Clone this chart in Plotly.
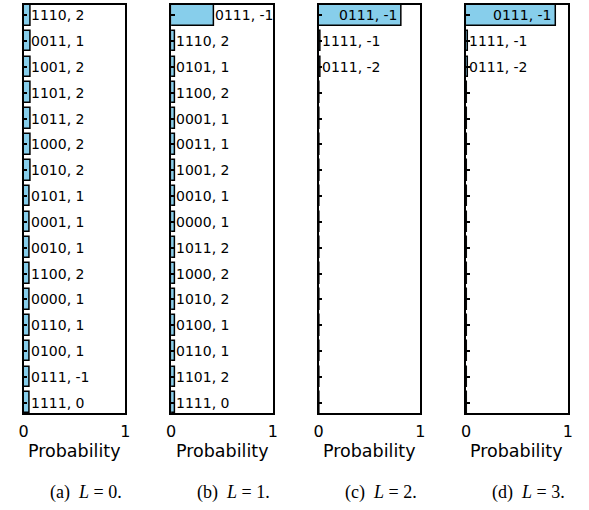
import plotly.graph_objects as go

# ---- data: measured state distributions after L layers ----
states_L0 = ["1110, 2", "0011, 1", "1001, 2", "1101, 2", "1011, 2", "1000, 2", "1010, 2", "0101, 1",
             "0001, 1", "0010, 1", "1100, 2", "0000, 1", "0110, 1", "0100, 1", "0111, -1", "1111, 0"]
probs_L0 = [0.067, 0.066, 0.066, 0.065, 0.065, 0.064, 0.064, 0.063,
            0.062, 0.062, 0.061, 0.060, 0.060, 0.059, 0.058, 0.058]

states_L1 = ["0111, -1", "1110, 2", "0101, 1", "1100, 2", "0001, 1", "0011, 1", "1001, 2", "0010, 1",
             "0000, 1", "1011, 2", "1000, 2", "1010, 2", "0100, 1", "0110, 1", "1101, 2", "1111, 0"]
probs_L1 = [0.420, 0.042, 0.041, 0.040, 0.040, 0.039, 0.039, 0.039,
            0.038, 0.038, 0.038, 0.038, 0.037, 0.037, 0.036, 0.036]

states_L2 = ["0111, -1", "1111, -1", "0111, -2", "1111, 0", "1110, 2", "0011, 1", "0101, 1", "1101, 2",
             "1011, 2", "0001, 1", "0010, 1", "1001, 2", "0100, 1", "0110, 1", "1000, 2", "0000, 1"]
probs_L2 = [0.816, 0.024, 0.020, 0.012, 0.012, 0.011, 0.011, 0.011,
            0.011, 0.011, 0.010, 0.010, 0.010, 0.010, 0.010, 0.009]

states_L3 = ["0111, -1", "1111, -1", "0111, -2", "1111, 0", "1110, 2", "0011, 1", "0101, 1", "1101, 2",
             "1011, 2", "0001, 1", "0010, 1", "1001, 2", "0100, 1", "0110, 1", "1000, 2", "0000, 1"]
probs_L3 = [0.889, 0.020, 0.018, 0.006, 0.006, 0.006, 0.006, 0.006,
            0.006, 0.005, 0.005, 0.005, 0.005, 0.005, 0.006, 0.006]

captions = ["(a)  <i>L</i> = 0.", "(b)  <i>L</i> = 1.", "(c)  <i>L</i> = 2.", "(d)  <i>L</i> = 3."]
x_ticks = [0, 1]
label_threshold = 0.015

panels = [(states_L0, probs_L0), (states_L1, probs_L1), (states_L2, probs_L2), (states_L3, probs_L3)]

# ---- layout geometry (pixels) ----
W, H = 589, 510
ax_left0, ax_w, ax_gap = 19, 103.5, 150
ax_top, ax_bottom = 5, 413
bar_width = 0.8

SANS = "DejaVu Sans"
SERIF = "Liberation Serif"

fig = go.Figure()
annotations = []

for k, (states, probs) in enumerate(panels):
    xa = "x" if k == 0 else f"x{k + 1}"
    ya = "y" if k == 0 else f"y{k + 1}"
    rows = list(range(len(states)))
    fig.add_trace(go.Bar(
        x=probs, y=rows, orientation="h", width=bar_width,
        marker=dict(color="#87CEEB", line=dict(color="black", width=1.5)),
        xaxis=xa, yaxis=ya, showlegend=False, hoverinfo="skip",
    ))

    left = ax_left0 + k * ax_gap
    dom_x = [left / W, (left + ax_w) / W]
    dom_y = [1 - ax_bottom / H, 1 - ax_top / H]
    xkey = "xaxis" if k == 0 else f"xaxis{k + 1}"
    ykey = "yaxis" if k == 0 else f"yaxis{k + 1}"
    fig.update_layout(**{
        xkey: dict(domain=dom_x, anchor=ya, range=[0, 1], tickvals=x_ticks,
                   ticktext=[str(t) for t in x_ticks], ticks="", showgrid=False, zeroline=False,
                   showline=True, mirror=True, linecolor="black", linewidth=1.5,
                   ticklabelstandoff=3,
                   tickfont=dict(family=SANS, size=16, color="black")),
        ykey: dict(domain=dom_y, anchor=xa, range=[len(states) - 1 + bar_width / 2, -bar_width / 2],
                   tickvals=rows, showticklabels=False, ticks="inside", ticklen=4, tickwidth=1.5,
                   tickcolor="black", showgrid=False, zeroline=False,
                   showline=True, mirror=True, linecolor="black", linewidth=1.5),
    })

    # state labels next to (or inside) each bar
    for r, (s, p) in enumerate(zip(states, probs)):
        if p < label_threshold:
            continue
        inside = p >= 0.5
        annotations.append(dict(
            x=p, y=r, xref=xa, yref=ya, text=s, showarrow=False,
            xanchor="right" if inside else "left", yanchor="middle",
            xshift=-2 if inside else -1,
            font=dict(family=SANS, size=14, color="black"),
        ))

    cx = (left + ax_w / 2) / W
    annotations.append(dict(x=cx, y=1 - 451 / H, xref="paper", yref="paper", text="Probability",
                            showarrow=False, xanchor="center", yanchor="middle",
                            font=dict(family=SANS, size=17.5, color="black")))
    annotations.append(dict(x=(left + ax_w / 2 + 11.5) / W, y=1 - 492 / H, xref="paper", yref="paper",
                            text=captions[k], showarrow=False, xanchor="center", yanchor="middle",
                            font=dict(family=SERIF, size=18, color="black")))

fig.update_layout(
    width=W, height=H, margin=dict(l=0, r=0, t=0, b=0),
    paper_bgcolor="white", plot_bgcolor="white",
    bargap=0, annotations=annotations,
)

fig.write_html("out.html")
